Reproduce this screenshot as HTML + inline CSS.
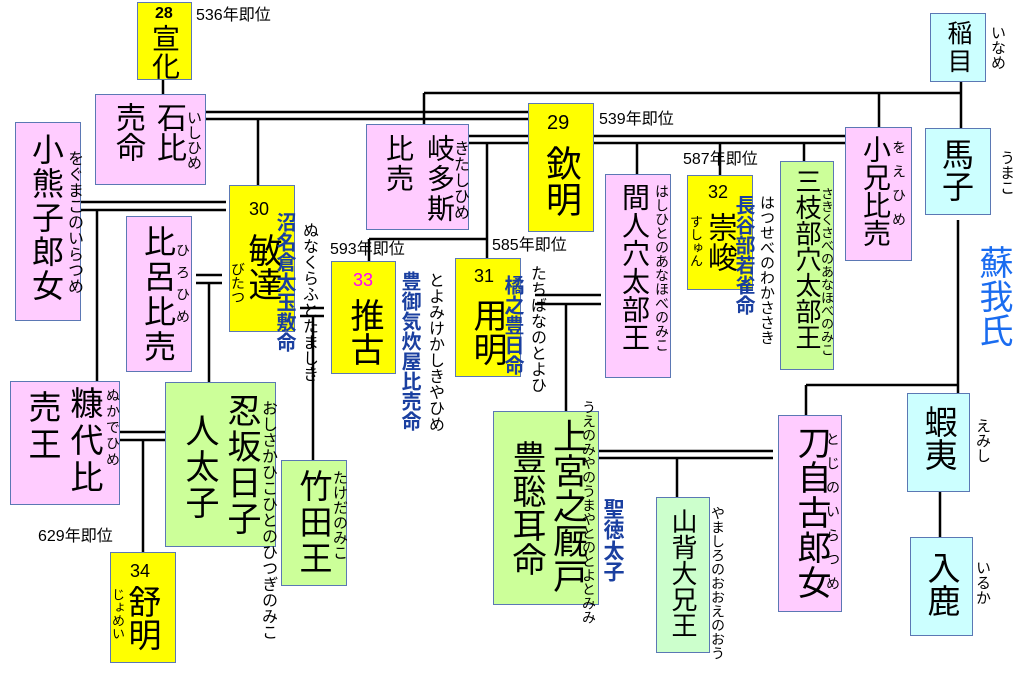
<!DOCTYPE html>
<html><head><meta charset="utf-8"><style>
body{margin:0;width:1024px;height:680px;background:#fff;position:relative;overflow:hidden;font-family:"Liberation Sans","Noto Sans CJK JP",sans-serif;color:#000}
.b{position:absolute;border:1.5px solid #5b78b4;box-sizing:border-box}
.p{background:#ffccff}.y{background:#ffff00}.g{background:#ccff99}.c{background:#ccffff}.lg{background:#ccffcc}
.v{position:absolute;writing-mode:vertical-rl;line-height:1;white-space:nowrap}
.t{position:absolute;line-height:1;white-space:nowrap}
.bl{color:#1a3fa0;font-weight:bold}
svg{position:absolute;left:0;top:0}
</style></head><body>
<svg width="1024" height="680" stroke="#000" stroke-width="2.5" fill="none">
<path d="M163 80V94"/>
<path d="M961 82V128M424 93H961M424 93V124M879 93V127"/>
<path d="M205 112H528M205 119H528M258 119V185"/>
<path d="M469 136H528M469 143H528M487 143V258M369 239H487M369 239V261"/>
<path d="M593 136H845M593 143H845M637 143V174M720 143V175M804 143V161"/>
<path d="M81 202H226M81 210H226M97 210V381"/>
<path d="M196 275H222M196 283H222M209 283V382"/>
<path d="M300 308H324M300 316H324M313 316V460"/>
<path d="M535 295H601M535 304H601M566 304V411"/>
<path d="M120 432H165M120 440H165M143 440V552"/>
<path d="M599 451H773M599 458H773M677 458V497"/>
<path d="M958 220V393M806 385H958M806 385V415M940 492V537"/>
</svg>

<div class="b y" style="left:137px;top:2px;width:55px;height:78px"></div>
<div class="t" style="left:155px;top:6px;font-size:16px;font-weight:bold">28</div>
<div class="v" style="left:150px;top:24px;font-size:28px">宣化</div>
<div class="t" style="left:196px;top:8px;font-size:16px">536年即位</div>

<div class="b p" style="left:95px;top:94px;width:111px;height:91px"></div>
<div class="v" style="left:153px;top:102px;font-size:30px">石比</div>
<div class="v" style="left:112px;top:102px;font-size:30px">売命</div>
<div class="v" style="left:186px;top:110px;font-size:15px">いしひめ</div>

<div class="b p" style="left:15px;top:122px;width:66px;height:199px"></div>
<div class="v" style="left:30px;top:133px;font-size:32px;line-height:1;letter-spacing:2px">小熊子郎女</div>
<div class="v" style="left:65px;top:150px;font-size:16px">をぐまこのいらつめ</div>

<div class="b p" style="left:126px;top:216px;width:66px;height:156px"></div>
<div class="v" style="left:142px;top:225px;font-size:32px;letter-spacing:3px">比呂比売</div>
<div class="v" style="left:176px;top:243px;font-size:14px;letter-spacing:8px">ひろひめ</div>

<div class="b y" style="left:229px;top:185px;width:66px;height:147px"></div>
<div class="t" style="left:249px;top:200px;font-size:18px">30</div>
<div class="v" style="left:245px;top:233px;font-size:34px">敏達</div>
<div class="v" style="left:231px;top:262px;font-size:14px">びたつ</div>
<div class="v bl" style="left:274px;top:212px;font-size:20px">沼名倉太玉敷命</div>
<div class="v" style="left:300px;top:222px;font-size:16px">ぬなくらふとたましき</div>

<div class="b p" style="left:366px;top:124px;width:103px;height:106px"></div>
<div class="v" style="left:425px;top:134px;font-size:28px;letter-spacing:2px">岐多斯</div>
<div class="v" style="left:384px;top:134px;font-size:28px;letter-spacing:2px">比売</div>
<div class="v" style="left:451px;top:140px;font-size:16px">きたしひめ</div>

<div class="b y" style="left:528px;top:103px;width:66px;height:129px"></div>
<div class="t" style="left:547px;top:113px;font-size:20px">29</div>
<div class="v" style="left:543px;top:145px;font-size:36px">欽明</div>
<div class="t" style="left:599px;top:112px;font-size:16px">539年即位</div>

<div class="t" style="left:330px;top:242px;font-size:16px">593年即位</div>
<div class="b y" style="left:331px;top:261px;width:65px;height:113px"></div>
<div class="t" style="left:353px;top:271px;font-size:18px;color:#ff00ff">33</div>
<div class="v" style="left:347px;top:298px;font-size:34px">推古</div>
<div class="v bl" style="left:399px;top:271px;font-size:20px">豊御気炊屋比売命</div>
<div class="v" style="left:426px;top:272px;font-size:16px">とよみけかしきやひめ</div>

<div class="t" style="left:492px;top:238px;font-size:16px">585年即位</div>
<div class="b y" style="left:455px;top:258px;width:66px;height:119px"></div>
<div class="t" style="left:474px;top:267px;font-size:18px">31</div>
<div class="v" style="left:470px;top:298px;font-size:34px">用明</div>
<div class="v bl" style="left:502px;top:275px;font-size:20px">橘之豊日命</div>
<div class="v" style="left:528px;top:265px;font-size:16px">たちばなのとよひ</div>

<div class="b p" style="left:605px;top:174px;width:66px;height:204px"></div>
<div class="v" style="left:620px;top:183px;font-size:28px">間人穴太部王</div>
<div class="v" style="left:655px;top:184px;font-size:14px">はしひとのあなほべのみこ</div>

<div class="t" style="left:683px;top:152px;font-size:16px">587年即位</div>
<div class="b y" style="left:687px;top:175px;width:66px;height:115px"></div>
<div class="t" style="left:708px;top:183px;font-size:18px">32</div>
<div class="v" style="left:704px;top:212px;font-size:30px">崇峻</div>
<div class="v" style="left:689px;top:215px;font-size:13px">すしゅん</div>
<div class="v bl" style="left:733px;top:195px;font-size:20px">長谷部若雀命</div>
<div class="v" style="left:759px;top:195px;font-size:15px">はつせべのわかささき</div>

<div class="b g" style="left:780px;top:161px;width:54px;height:209px"></div>
<div class="v" style="left:794px;top:168px;font-size:26px">三枝部穴太部王</div>
<div class="v" style="left:820px;top:187px;font-size:13px">さきくさべのあなほべのみこ</div>

<div class="b p" style="left:845px;top:127px;width:67px;height:134px"></div>
<div class="v" style="left:861px;top:135px;font-size:28px">小兄比売</div>
<div class="v" style="left:892px;top:140px;font-size:14px;letter-spacing:10px">をえひめ</div>

<div class="b c" style="left:930px;top:13px;width:56px;height:69px"></div>
<div class="v" style="left:945px;top:20px;font-size:25px;letter-spacing:3px">稲目</div>
<div class="v" style="left:990px;top:25px;font-size:15px">いなめ</div>

<div class="b c" style="left:925px;top:128px;width:66px;height:87px"></div>
<div class="v" style="left:940px;top:138px;font-size:32px">馬子</div>
<div class="v" style="left:999px;top:150px;font-size:15px">うまこ</div>
<div class="v" style="left:976px;top:245px;font-size:34px;color:#1a6cf0">蘇我氏</div>

<div class="b p" style="left:10px;top:381px;width:110px;height:124px"></div>
<div class="v" style="left:68px;top:386px;font-size:33px;letter-spacing:4px">糠代比</div>
<div class="v" style="left:26px;top:390px;font-size:33px;letter-spacing:4px">売王</div>
<div class="v" style="left:106px;top:388px;font-size:14px;letter-spacing:2px">ぬかでひめ</div>

<div class="b g" style="left:165px;top:382px;width:111px;height:165px"></div>
<div class="v" style="left:224px;top:393px;font-size:34px;letter-spacing:2px">忍坂日子</div>
<div class="v" style="left:182px;top:413px;font-size:34px;letter-spacing:2px">人太子</div>
<div class="v" style="left:259px;top:400px;font-size:16px">おしさかひこひとのひつぎのみこ</div>

<div class="b g" style="left:281px;top:460px;width:66px;height:126px"></div>
<div class="v" style="left:297px;top:469px;font-size:33px;letter-spacing:3px">竹田王</div>
<div class="v" style="left:332px;top:470px;font-size:15px">たけだのみこ</div>

<div class="t" style="left:38px;top:529px;font-size:16px">629年即位</div>
<div class="b y" style="left:110px;top:552px;width:66px;height:111px"></div>
<div class="t" style="left:130px;top:562px;font-size:18px">34</div>
<div class="v" style="left:126px;top:585px;font-size:33px">舒明</div>
<div class="v" style="left:111px;top:588px;font-size:13px">じょめい</div>

<div class="b g" style="left:493px;top:411px;width:106px;height:194px"></div>
<div class="v" style="left:550px;top:418px;font-size:35px">上宮之厩戸</div>
<div class="v" style="left:509px;top:440px;font-size:34px">豊聡耳命</div>
<div class="v" style="left:582px;top:400px;font-size:14px">うえのみやのうまやとのとよとみみ</div>
<div class="v bl" style="left:602px;top:498px;font-size:21px">聖徳太子</div>

<div class="b lg" style="left:656px;top:497px;width:54px;height:156px"></div>
<div class="v" style="left:670px;top:508px;font-size:26px">山背大兄王</div>
<div class="v" style="left:711px;top:506px;font-size:14px">やましろのおおえのおう</div>

<div class="b p" style="left:778px;top:415px;width:64px;height:197px"></div>
<div class="v" style="left:794px;top:425px;font-size:34px;line-height:1;letter-spacing:1px">刀自古郎女</div>
<div class="v" style="left:826px;top:432px;font-size:14px;letter-spacing:10px">とじのいらつめ</div>

<div class="b c" style="left:907px;top:393px;width:63px;height:99px"></div>
<div class="v" style="left:922px;top:405px;font-size:33px">蝦夷</div>
<div class="v" style="left:975px;top:418px;font-size:15px">えみし</div>

<div class="b c" style="left:910px;top:537px;width:63px;height:99px"></div>
<div class="v" style="left:925px;top:551px;font-size:33px">入鹿</div>
<div class="v" style="left:975px;top:560px;font-size:15px">いるか</div>
</body></html>
